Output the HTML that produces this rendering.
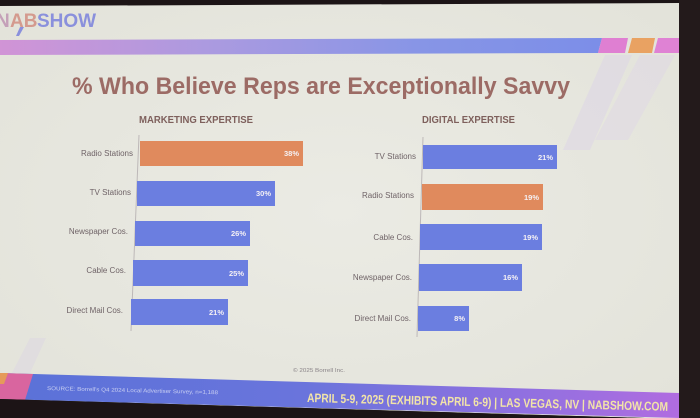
<!DOCTYPE html>
<html>
<head>
<meta charset="utf-8">
<style>
html,body{margin:0;padding:0;background:#1c1416;}
svg{display:block;}
text{font-family:"Liberation Sans",sans-serif;}
</style>
</head>
<body>
<svg width="700" height="418" viewBox="0 0 700 418" xmlns="http://www.w3.org/2000/svg">
  <defs>
    <linearGradient id="topband" x1="0" y1="0" x2="1" y2="0">
      <stop offset="0" stop-color="#d194d6"/>
      <stop offset="0.35" stop-color="#ab9ae0"/>
      <stop offset="0.7" stop-color="#8795e6"/>
      <stop offset="1" stop-color="#7c8ee8"/>
    </linearGradient>
    <linearGradient id="footband" x1="0" y1="0" x2="1" y2="0">
      <stop offset="0" stop-color="#5a72d8"/>
      <stop offset="0.45" stop-color="#6a74dc"/>
      <stop offset="0.8" stop-color="#9470e0"/>
      <stop offset="1" stop-color="#b06ce0"/>
    </linearGradient>
    <radialGradient id="bg" cx="0.5" cy="0.5" r="0.75">
      <stop offset="0" stop-color="#ebebe4"/>
      <stop offset="1" stop-color="#e2e2d9"/>
    </radialGradient>
  </defs>

  <rect x="0" y="0" width="700" height="418" fill="#1c1416"/>
  <polygon points="0,6 679,3 679,418 0,418" fill="url(#bg)"/>

  <!-- faint decorative stripes right -->
  <polygon points="605,55 632,55 590,150 563,150" fill="#ddd5e6" opacity="0.55"/>
  <polygon points="640,55 675,55 628,140 595,140" fill="#ddd5e6" opacity="0.45"/>
  <polygon points="30,338 46,338 30,373 12,373" fill="#ddd7e2" opacity="0.55"/>

  <!-- NABSHOW logo -->
  <text x="-4" y="27" font-size="19" font-weight="bold" fill="#c4a0b8">N</text>
  <text x="10" y="27" font-size="19" font-weight="bold" fill="#d49a8e">AB</text>
  <text x="37" y="27" font-size="19" font-weight="bold" fill="#8a90dc">SHOW</text>
  <polygon points="20,27 24,27 19,36 16,36" fill="#8a90dc"/>

  <!-- top band -->
  <polygon points="0,40 602,38 598,53 0,55" fill="url(#topband)"/>
  <polygon points="602,38 628,38 625,53 598,53" fill="#df7fd2"/>
  <polygon points="632,38 655,38 652,53 628,53" fill="#e9a262"/>
  <polygon points="658,38 679,38 679,53 654,53" fill="#df82d4"/>

  <!-- title -->
  <text x="72" y="94" font-size="24" font-weight="bold" fill="#9c6b65" textLength="498" lengthAdjust="spacingAndGlyphs">% Who Believe Reps are Exceptionally Savvy</text>

  <!-- subtitles -->
  <text x="139" y="123" font-size="10" font-weight="bold" fill="#7e605c" textLength="114" lengthAdjust="spacingAndGlyphs">MARKETING EXPERTISE</text>
  <text x="422" y="123" font-size="10" font-weight="bold" fill="#7e605c" textLength="93" lengthAdjust="spacingAndGlyphs">DIGITAL EXPERTISE</text>

  <!-- axes -->
  <line x1="139" y1="135" x2="131" y2="331" stroke="#bdb8b8" stroke-width="1"/>
  <line x1="423" y1="137" x2="417" y2="337" stroke="#bdb8b8" stroke-width="1"/>

  <!-- left chart bars -->
  <rect x="140" y="141" width="163" height="25" fill="#e08a5d"/>
  <rect x="137" y="181" width="138" height="25" fill="#6b7ee0"/>
  <rect x="135" y="221" width="115" height="25" fill="#6b7ee0"/>
  <rect x="133" y="260" width="115" height="26" fill="#6b7ee0"/>
  <rect x="131" y="299" width="97" height="26" fill="#6b7ee0"/>

  <g font-size="7.5" font-weight="bold" fill="#f4f0f4" text-anchor="end">
    <text x="299" y="156">38%</text>
    <text x="271" y="196">30%</text>
    <text x="246" y="236">26%</text>
    <text x="244" y="276">25%</text>
    <text x="224" y="315">21%</text>
  </g>

  <g font-size="8" fill="#6f6367" text-anchor="end">
    <text x="133" y="156">Radio Stations</text>
    <text x="131" y="195">TV Stations</text>
    <text x="128" y="234">Newspaper Cos.</text>
    <text x="126" y="273">Cable Cos.</text>
    <text x="123" y="313">Direct Mail Cos.</text>
  </g>

  <!-- right chart bars -->
  <rect x="423" y="145" width="134" height="24" fill="#6b7ee0"/>
  <rect x="422" y="184" width="121" height="26" fill="#e08a5d"/>
  <rect x="420" y="224" width="122" height="26" fill="#6b7ee0"/>
  <rect x="419" y="264" width="103" height="27" fill="#6b7ee0"/>
  <rect x="418" y="306" width="51" height="25" fill="#6b7ee0"/>

  <g font-size="7.5" font-weight="bold" fill="#f4f0f4" text-anchor="end">
    <text x="553" y="160">21%</text>
    <text x="539" y="200">19%</text>
    <text x="538" y="240">19%</text>
    <text x="518" y="280">16%</text>
    <text x="465" y="321">8%</text>
  </g>

  <g font-size="8" fill="#6f6367" text-anchor="end">
    <text x="416" y="159">TV Stations</text>
    <text x="414" y="198">Radio Stations</text>
    <text x="413" y="240">Cable Cos.</text>
    <text x="412" y="280">Newspaper Cos.</text>
    <text x="411" y="321">Direct Mail Cos.</text>
  </g>

  <!-- copyright -->
  <text x="293" y="372" font-size="5" fill="#8a8488" textLength="52" lengthAdjust="spacingAndGlyphs">© 2025 Borrell Inc.</text>

  <!-- footer band -->
  <polygon points="0,373 679,393 679,418 0,399" fill="url(#footband)"/>
  <polygon points="0,373 33,374 25,400 0,399" fill="#d9659f"/>
  <polygon points="0,373 8,373 4,384 0,384" fill="#e59a5a"/>
  <!-- dark below band -->
  <polygon points="0,399 679,419 679,418 0,418" fill="#1c1416"/>
  <polygon points="0,399 679,419 0,418" fill="#1c1416"/>

  <text x="47" y="390" font-size="5.5" fill="#c9cff2" textLength="171" lengthAdjust="spacingAndGlyphs" transform="rotate(1.4 47 390)">SOURCE: Borrell's Q4 2024 Local Advertiser Survey, n=1,188</text>
  <text x="307" y="402" font-size="12.5" font-weight="bold" fill="#f2e4a8" textLength="361" lengthAdjust="spacingAndGlyphs" transform="rotate(1.4 307 402)">APRIL 5-9, 2025 (EXHIBITS APRIL 6-9) | LAS VEGAS, NV | NABSHOW.COM</text>

  <!-- right dark edge -->
  <rect x="679" y="0" width="21" height="418" fill="#231a1b"/>
</svg>
</body>
</html>
